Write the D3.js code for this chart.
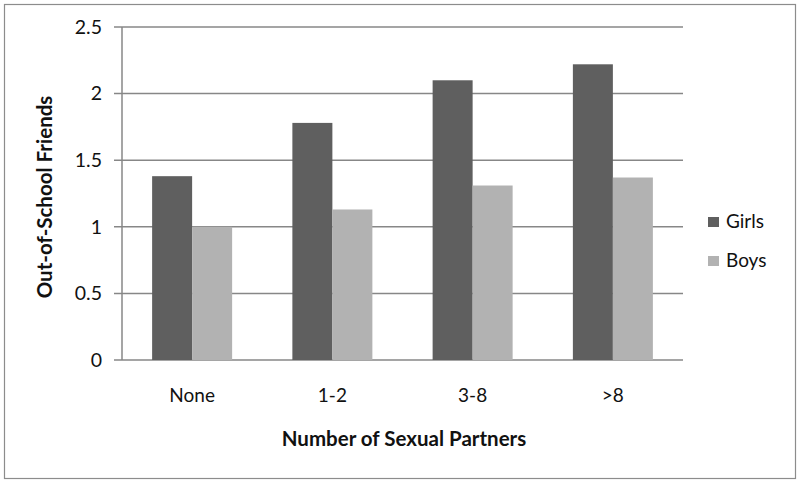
<!DOCTYPE html>
<html>
<head>
<meta charset="utf-8">
<script src="https://cdn.jsdelivr.net/npm/d3@7"></script>
<style>
  body { margin: 0; background: #fff; }
  svg { font-family: Lato, "Open Sans", sans-serif; }
</style>
</head>
<body>
<svg width="800" height="483"></svg>
<script>
const categories = ["None", "1-2", "3-8", ">8"];
const girls = [1.38, 1.78, 2.1, 2.22];
const boys = [1.0, 1.13, 1.31, 1.37];
const series = ["Girls", "Boys"];
const yTicks = [0, 0.5, 1, 1.5, 2, 2.5];
const colors = ["#5f5f5f", "#b2b2b2"];

const svg = d3.select("svg");
const margin = {left: 122, right: 117, top: 27, bottom: 123};
const width = 800 - margin.left - margin.right;
const height = 483 - margin.top - margin.bottom;

// chart border
svg.append("rect")
  .attr("x", 4.5).attr("y", 4.5)
  .attr("width", 791).attr("height", 474)
  .attr("fill", "none")
  .attr("stroke", "#8c8c8c")
  .attr("stroke-width", 1.2);

const g = svg.append("g").attr("transform", `translate(${margin.left},${margin.top})`);

const x = d3.scaleBand().domain(categories).range([0, width]);
const xs = d3.scaleBand().domain(series).range([0, 80]);
const y = d3.scaleLinear().domain([0, 2.5]).range([height, 0]);

// gridlines + tick stubs
g.append("g")
  .selectAll("line")
  .data(yTicks).enter()
  .append("line")
  .attr("x1", -8).attr("x2", width)
  .attr("y1", d => y(d)).attr("y2", d => y(d))
  .attr("stroke", "#878787")
  .attr("stroke-width", 1.5);

g.append("g")
  .attr("font-size", 19.5)
  .attr("fill", "#111")
  .attr("text-anchor", "end")
  .selectAll("text")
  .data(yTicks).enter()
  .append("text")
  .attr("x", -20)
  .attr("y", d => y(d))
  .attr("dy", "0.35em")
  .text(d => d);

const table = categories.map((c, i) => ({cat: c, vals: [girls[i], boys[i]]}));

g.append("g")
  .selectAll("g")
  .data(table).enter()
  .append("g")
  .attr("transform", d => `translate(${x(d.cat) + x.bandwidth() / 2 - 40},0)`)
  .selectAll("rect")
  .data(d => d.vals.map((v, j) => ({s: series[j], v: v, j: j}))).enter()
  .append("rect")
  .attr("x", d => xs(d.s))
  .attr("width", xs.bandwidth())
  .attr("y", d => y(d.v))
  .attr("height", d => height - y(d.v))
  .attr("fill", d => colors[d.j]);

// y axis line
g.append("line")
  .attr("x1", 0).attr("x2", 0)
  .attr("y1", 0).attr("y2", height)
  .attr("stroke", "#878787")
  .attr("stroke-width", 1.5);

// category labels
g.append("g")
  .attr("font-size", 19)
  .attr("fill", "#111")
  .attr("text-anchor", "middle")
  .selectAll("text")
  .data(categories).enter()
  .append("text")
  .attr("x", d => x(d) + x.bandwidth() / 2)
  .attr("y", height + 42)
  .text(d => d);

// axis titles
svg.append("text")
  .attr("x", 404).attr("y", 446)
  .attr("text-anchor", "middle")
  .attr("font-size", 20.5)
  .attr("font-weight", "bold")
  .attr("fill", "#111")
  .text("Number of Sexual Partners");

svg.append("text")
  .attr("transform", "translate(52,197) rotate(-90)")
  .attr("text-anchor", "middle")
  .attr("font-size", 20.5)
  .attr("font-weight", "bold")
  .attr("fill", "#111")
  .text("Out-of-School Friends");

// legend
const legend = svg.append("g")
  .selectAll("g")
  .data(series).enter()
  .append("g")
  .attr("transform", (d, i) => `translate(708,${217 + i * 39})`);
legend.append("rect")
  .attr("width", 11).attr("height", 10)
  .attr("fill", (d, i) => colors[i]);
legend.append("text")
  .attr("x", 18).attr("y", 10.5)
  .attr("font-size", 19)
  .attr("fill", "#111")
  .text(d => d);
</script>
</body>
</html>
